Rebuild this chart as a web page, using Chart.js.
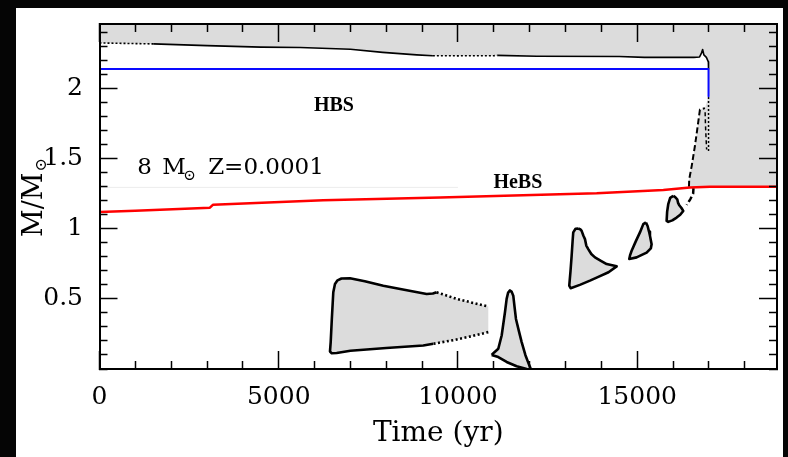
<!DOCTYPE html>
<html>
<head>
<meta charset="utf-8">
<script src="https://cdn.jsdelivr.net/npm/chart.js@4/dist/chart.umd.min.js"></script>
<style>
  html, body { margin: 0; padding: 0; background: #050505; }
  canvas { display: block; }
</style>
</head>
<body>
<canvas id="kipp" width="788" height="457"></canvas>
<script>
// Time in yr, mass coordinate in Msun

// base of the convective envelope
const envTime = [0, 1500, 3000, 4500, 5600, 7000, 7900, 8850, 9300, 10000, 11000, 11100, 12200, 14500, 15200, 16580, 16740, 16790, 16825, 16860, 16930, 16985, 16990];
const envMass = [2.325, 2.318, 2.306, 2.295, 2.292, 2.280, 2.258, 2.240, 2.234, 2.233, 2.234, 2.236, 2.230, 2.228, 2.222, 2.222, 2.225, 2.250, 2.278, 2.240, 2.222, 2.190, 2.139];

// H burning shell
const hbsTime = [0, 16990, 16990];
const hbsMass = [2.139, 2.139, 1.945];

// He burning shell
const hebsTime = [0, 1000, 3080, 3170, 6240, 9500, 13870, 15730, 16470, 17030, 18900];
const hebsMass = [1.120, 1.128, 1.150, 1.172, 1.203, 1.222, 1.253, 1.277, 1.294, 1.300, 1.300];

// envelope penetration at the end
const wedgeTime = [16445, 16450, 16520, 16610, 16700, 16750, 16890];
const wedgeMass = [1.300, 1.352, 1.447, 1.590, 1.755, 1.850, 1.860];
const innerTime = [16895, 16905, 16920, 16937];
const innerMass = [1.830, 1.740, 1.650, 1.565];
const dropTime = [16990, 16990];
const dropMass = [1.940, 1.540];
const tailTime = [16570, 16560, 16480, 16380];
const tailMass = [1.290, 1.250, 1.210, 1.170];

// convective shells
const shellATime = [10846, 10400, 9900, 9311, 9032, 8000, 7000, 6616, 6480, 6430, 6449, 6480, 6522, 6569, 6640, 6750, 6987, 7400, 7917, 8500, 9126, 9300, 9405, 9963, 10846];
const shellAMass = [0.263, 0.235, 0.207, 0.180, 0.168, 0.150, 0.130, 0.114, 0.112, 0.125, 0.190, 0.350, 0.547, 0.606, 0.632, 0.645, 0.647, 0.625, 0.594, 0.565, 0.535, 0.538, 0.547, 0.500, 0.445];
const shellBTime = [10940, 11010, 11125, 11219, 11311, 11358, 11400, 11451, 11500, 11543, 11580, 11618, 11700, 11777, 11880, 11990, 12080, 11950, 11916, 11637, 11358, 11125];
const shellBMass = [0.100, 0.118, 0.144, 0.239, 0.405, 0.500, 0.545, 0.560, 0.550, 0.523, 0.440, 0.357, 0.270, 0.192, 0.100, 0.026, -0.030, -0.030, 0.000, 0.020, 0.050, 0.085];
const shellCTime = [13356, 13420, 13450, 13500, 13543, 13580, 13635, 13720, 13822, 14000, 14148, 14427, 14200, 13900, 13682, 13400, 13143, 13105, 13140, 13171, 13200, 13216, 13280];
const shellCMass = [1.002, 0.995, 0.985, 0.950, 0.926, 0.880, 0.855, 0.820, 0.796, 0.770, 0.748, 0.732, 0.690, 0.655, 0.630, 0.600, 0.576, 0.594, 0.700, 0.807, 0.920, 0.974, 1.000];
const shellDTime = [15244, 15290, 15330, 15356, 15402, 15380, 15263, 15100, 14984, 14779, 14800, 14845, 14960, 15077, 15170];
const shellDMass = [1.045, 1.020, 0.980, 0.950, 0.890, 0.860, 0.830, 0.810, 0.796, 0.784, 0.810, 0.843, 0.910, 0.974, 1.033];
const shellETime = [16006, 16060, 16117, 16140, 16173, 16230, 16285, 16200, 16100, 15980, 15866, 15821, 15835, 15866, 15920];
const shellEMass = [1.234, 1.225, 1.210, 1.185, 1.168, 1.150, 1.127, 1.100, 1.080, 1.060, 1.049, 1.056, 1.120, 1.175, 1.220];

// faint guide line
const guideTime = [0, 10000];
const guideMass = [1.295, 1.295];

// axis ticks
const xTicks = [0, 1000, 2000, 3000, 4000, 5000, 6000, 7000, 8000, 9000, 10000, 11000, 12000, 13000, 14000, 15000, 16000, 17000, 18000];
const xLabels = [0, 5000, 10000, 15000];
const yTicks = [0, 0.1, 0.2, 0.3, 0.4, 0.5, 0.6, 0.7, 0.8, 0.9, 1, 1.1, 1.2, 1.3, 1.4, 1.5, 1.6, 1.7, 1.8, 1.9, 2, 2.1, 2.2, 2.3, 2.4];
const yLabels = [0.5, 1, 1.5, 2];

const GRAY = '#dcdcdc';
const SERIF = "'DejaVu Serif', serif";

const pts = (t, m) => t.map((v, i) => ({x: v, y: m[i]}));
const loop = (t, m) => { const p = pts(t, m); p.push(p[0]); return p; };

const envFill = [
  {x: 0, y: 2.6}, {x: 18900, y: 2.6},
  ...pts(hebsTime, hebsMass).filter(p => p.x >= 16470).reverse(),
  ...pts(wedgeTime, wedgeMass),
  {x: hbsTime[2], y: hbsMass[2]},
  ...pts(envTime, envMass).reverse()
];

function outline(data, width, extra) {
  return Object.assign({data, borderColor: '#000', borderWidth: width, fill: false}, extra || {});
}
function shade(data) {
  return {data, fill: 'shape', backgroundColor: GRAY, borderColor: 'rgba(0,0,0,0)', borderWidth: 0};
}

const isLabel = (list, v) => list.some(l => Math.abs(l - v) < 1e-6);

function axis(pos, min, max, tickList, labelList, size) {
  const inward = pos === 'top' || pos === 'left';
  return {
    type: 'linear', position: pos, min, max,
    afterBuildTicks: s => { s.ticks = tickList.map(v => ({value: v})); },
    afterFit: s => {
      if (s.isHorizontal()) s.height = size; else s.width = size;
      s.paddingTop = s.paddingBottom = s.paddingLeft = s.paddingRight = 0;
    },
    border: {display: true, color: '#000', width: 2, z: 1},
    grid: {
      drawOnChartArea: false, drawTicks: true, tickLength: -18, tickWidth: 1.5, tickColor: '#000', z: 1,
      tickBorderDash: c => (c.tick && isLabel(labelList, c.tick.value)) ? [] : (inward ? [0, 10, 9, 100] : [9, 100])
    },
    ticks: {
      display: size > 0, autoSkip: false, maxRotation: 0, minRotation: 0,
      color: '#000', font: {family: SERIF, size: 25},
      callback: v => isLabel(labelList, v) ? String(v) : ''
    }
  };
}

const xAxis = axis('bottom', 0, 18900, xTicks, xLabels, 88);
xAxis.ticks.padding = 31;
xAxis.title = {display: true, text: 'Time (yr)', color: '#000', font: {family: SERIF, size: 28}, padding: {top: 0, bottom: 6}};

const yAxis = axis('left', 0, 2.46, yTicks, yLabels, 99.5);
yAxis.ticks.padding = 34.5;

const decor = {
  id: 'decor',
  beforeDraw(chart) {
    const {ctx} = chart;
    ctx.save();
    ctx.fillStyle = '#050505';
    ctx.fillRect(0, 0, chart.width, chart.height);
    ctx.fillStyle = '#ffffff';
    ctx.fillRect(16, 8, 767, 449);
    ctx.restore();
  },
  afterDraw(chart) {
    const {ctx, chartArea} = chart;
    const x = chart.scales.x, y = chart.scales.y;
    ctx.save();
    ctx.fillStyle = '#000';
    ctx.textBaseline = 'alphabetic';

    ctx.font = "bold 20px 'Liberation Serif'";
    ctx.textAlign = 'center';
    ctx.fillText('HBS', x.getPixelForValue(6540), y.getPixelForValue(1.843));
    ctx.fillText('HeBS', x.getPixelForValue(11670), y.getPixelForValue(1.294));

    // model label
    ctx.textAlign = 'left';
    const x0 = x.getPixelForValue(1050), base = y.getPixelForValue(1.388);
    ctx.font = '23px ' + SERIF;
    ctx.fillText('8', x0, base);
    ctx.fillText('M', x0 + 25, base);
    ctx.fillText('Z=0.0001', x0 + 71, base);
    ctx.font = '15px ' + SERIF;
    ctx.fillText('\u2299', x0 + 46, base + 6);

    // y axis title
    ctx.translate(31.5, (chartArea.top + chartArea.bottom) / 2 + 1.5);
    ctx.rotate(-Math.PI / 2);
    ctx.font = '27px ' + SERIF;
    const w1 = ctx.measureText('M/M').width;
    ctx.font = '16px ' + SERIF;
    const w2 = ctx.measureText('\u2299').width;
    const start = -(w1 + w2) / 2;
    ctx.font = '27px ' + SERIF;
    ctx.fillText('M/M', start, 10);
    ctx.font = '16px ' + SERIF;
    ctx.fillText('\u2299', start + w1 + 1, 14);
    ctx.restore();
  }
};

new Chart(document.getElementById('kipp'), {
  type: 'line',
  data: {
    datasets: [
      outline(pts(hbsTime, hbsMass), 2, {borderColor: '#0a0aff'}),
      outline(pts(hebsTime, hebsMass), 2.5, {borderColor: '#ff0000'}),
      outline(pts(envTime, envMass), 1.6, {
        segment: {borderDash: c => (c.p0.parsed.x < 1500 || (c.p0.parsed.x >= 9300 && c.p0.parsed.x < 11100)) ? [2, 2] : undefined}
      }),
      outline(pts(dropTime, dropMass), 1.5, {borderDash: [2, 2]}),
      outline(pts(wedgeTime, wedgeMass), 2, {borderDash: [6, 3]}),
      outline(pts(innerTime, innerMass), 1.5, {borderDash: [4, 3]}),
      outline(pts(tailTime, tailMass), 2.5, {borderDash: [6, 3]}),
      outline(pts(shellATime, shellAMass), 2.6, {
        segment: {borderDash: c => (c.p0DataIndex < 3 || c.p0DataIndex >= 22) ? [2, 2.5] : undefined}
      }),
      outline(loop(shellBTime, shellBMass), 2.6),
      outline(loop(shellCTime, shellCMass), 2.6),
      outline(loop(shellDTime, shellDMass), 2.6),
      outline(loop(shellETime, shellEMass), 2.6),
      shade(pts(shellATime, shellAMass)),
      shade(pts(shellBTime, shellBMass)),
      shade(pts(shellCTime, shellCMass)),
      shade(pts(shellDTime, shellDMass)),
      shade(pts(shellETime, shellEMass)),
      shade(envFill),
      outline(pts(guideTime, guideMass), 1, {borderColor: '#ececec'})
    ]
  },
  options: {
    animation: false,
    responsive: false,
    events: [],
    layout: {padding: {left: 0, right: 11, top: 24, bottom: 0}},
    plugins: {legend: {display: false}, tooltip: {enabled: false}},
    elements: {
      point: {radius: 0},
      line: {tension: 0, borderJoinStyle: 'round', fill: false}
    },
    scales: {
      x: xAxis,
      y: yAxis,
      x2: axis('top', 0, 18900, xTicks, xLabels, 0),
      y2: axis('right', 0, 2.46, yTicks, yLabels, 0)
    }
  },
  plugins: [decor]
});
</script>
</body>
</html>
